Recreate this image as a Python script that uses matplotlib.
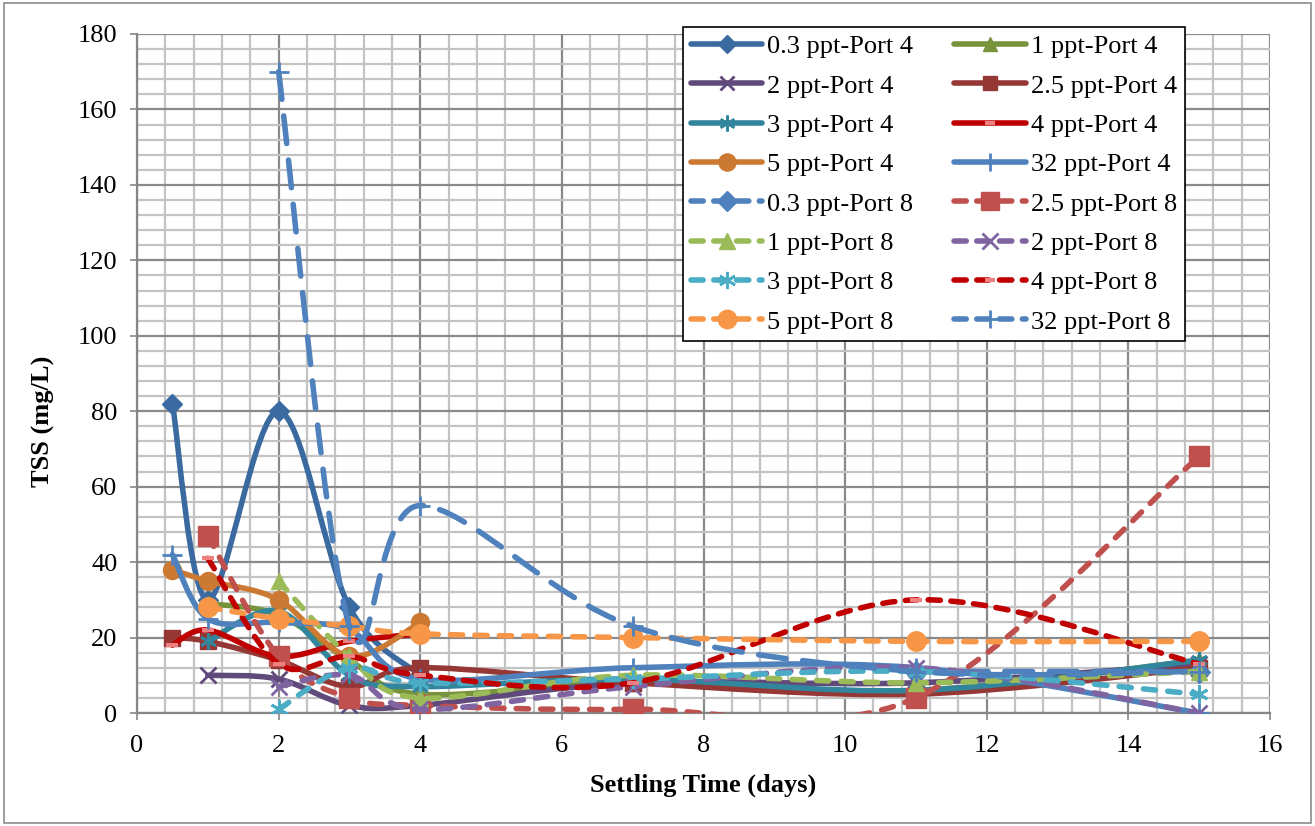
import numpy as np
import matplotlib.pyplot as plt
from matplotlib.path import Path
from matplotlib.patches import PathPatch, Rectangle
from matplotlib.lines import Line2D

plt.rcParams['font.family'] = ['Liberation Serif', 'DejaVu Serif']

nan = np.nan
days = [0.5, 1, 2, 3, 4, 7, 11, 15]

# TSS (mg/L) at each settling day, Port 4
tss_03_p4 = [82, 30, 80, 28, 10, nan, nan, nan]
tss_1_p4 = [nan, 29, 26, 14, 5, 8, 6, 14]
tss_2_p4 = [nan, 10, 9, 2, 2, 8, 8, 13]
tss_25_p4 = [20, 19, 14, 7, 12, 8, 5, 12]
tss_3_p4 = [nan, 19, 27, 10, 7, 9, 6, 14]
tss_4_p4 = [18, 22, 15, 19, 21, nan, nan, nan]
tss_5_p4 = [38, 35, 30, 15, 24, nan, nan, nan]
tss_32_p4 = [42, 25, 24, 22, 9, 12, 12, 0]

# TSS (mg/L) at each settling day, Port 8
tss_03_p8 = [nan, nan, nan, nan, nan, nan, 11, 11]
tss_25_p8 = [nan, 47, 15, 4, 2, 1, 4, 68]
tss_1_p8 = [nan, nan, 35, 15, 4, 10, 8, 11]
tss_2_p8 = [nan, nan, 7, 10, 1, 7, 12, 0]
tss_3_p8 = [nan, nan, 1, 12, 8, 9, 11, 5]
tss_4_p8 = [nan, 41, 13, 15, 10, 8, 30, 13]
tss_5_p8 = [nan, 28, 25, 23, 21, 20, 19, 19]
tss_32_p8 = [nan, nan, 170, 23, 55, 23, 11, 11]

labels = ['0.3 ppt-Port 4', '1 ppt-Port 4', '2 ppt-Port 4', '2.5 ppt-Port 4',
          '3 ppt-Port 4', '4 ppt-Port 4', '5 ppt-Port 4', '32 ppt-Port 4',
          '0.3 ppt-Port 8', '2.5 ppt-Port 8', '1 ppt-Port 8', '2 ppt-Port 8',
          '3 ppt-Port 8', '4 ppt-Port 8', '5 ppt-Port 8', '32 ppt-Port 8']
series = [tss_03_p4, tss_1_p4, tss_2_p4, tss_25_p4, tss_3_p4, tss_4_p4, tss_5_p4, tss_32_p4,
          tss_03_p8, tss_25_p8, tss_1_p8, tss_2_p8, tss_3_p8, tss_4_p8, tss_5_p8, tss_32_p8]

star = (6, 2, 0)
# color, marker, marker size, dash pattern (None = solid)
styles = [
    ('#3b6aa0', 'D', 10, None),
    ('#77933c', '^', 11, None),
    ('#604a7b', 'x', 11, None),
    ('#953735', 's', 11, None),
    ('#31859c', star, 12, None),
    ('#c00000', '_', 8, None),
    ('#cc7a33', 'o', 13, None),
    ('#4f81bd', '+', 14, None),
    ('#4f81bd', 'D', 11, (5.0, 3.0)),
    ('#c0504d', 's', 14, (2.2, 2.2)),
    ('#9bbb59', '^', 12, (2.2, 2.2)),
    ('#8064a2', 'x', 12, (2.2, 2.2)),
    ('#4bacc6', star, 13, (2.2, 2.2)),
    ('#c00000', '_', 8, (2.2, 1.9)),
    ('#f79646', 'o', 14, (2.2, 2.2)),
    ('#4f81bd', '+', 14, (5.0, 3.0)),
]


def smooth_path(x, y):
    # smoothed line through the points as cubic Bezier segments
    pts = np.array([(a, b) for a, b in zip(x, y) if not np.isnan(b)], dtype=float)
    n = len(pts)
    verts = [pts[0]]
    codes = [Path.MOVETO]
    for i in range(n - 1):
        p0 = pts[max(i - 1, 0)]
        p1 = pts[i]
        p2 = pts[i + 1]
        p3 = pts[min(i + 2, n - 1)]
        verts += [p1 + (p2 - p0) / 6, p2 - (p3 - p1) / 6, p2]
        codes += [Path.CURVE4] * 3
    return Path(verts, codes)


fig = plt.figure(figsize=(13.15, 8.26), dpi=100)
fig.patches.append(Rectangle((0.003, 0.004), 0.994, 0.992, transform=fig.transFigure,
                             fill=False, edgecolor='#8c8c8c', linewidth=1.2))
ax = fig.add_axes([137 / 1315, 1 - 713 / 826, (1270 - 137) / 1315, (713 - 34) / 826])

lw = 4.0
handles = []
for k, (vals, lab, (col, mk, ms, dash)) in enumerate(zip(series, labels, styles)):
    ls = '-' if dash is None else (0, dash)
    patch = PathPatch(smooth_path(days, vals), facecolor='none', edgecolor=col,
                      linewidth=lw, linestyle=ls, capstyle='round', joinstyle='round',
                      zorder=3 + k * 0.1)
    ax.add_patch(patch)
    mew = 2 if mk in ('x', '+', star) else 1
    mec = col
    if mk == '_':
        mec = '#f08080'
        mew = 3
    ax.plot(days, vals, linestyle='none', marker=mk, markersize=ms, color=col,
            markeredgecolor=mec, markeredgewidth=mew, zorder=3.05 + k * 0.1)
    # shorter dashes in the legend so the pattern shows on the short handle
    hls = ls if dash is None else (0, (min(dash[0], 2.2), 1.9))
    h = Line2D([], [], color=col, linewidth=lw, linestyle=hls, marker=mk,
               markersize=ms * 0.95, markeredgecolor=mec, markeredgewidth=mew,
               solid_capstyle='round', dash_capstyle='round')
    handles.append(h)

ax.set_xlim(0, 16)
ax.set_ylim(0, 180)
ax.set_xticks(np.arange(0, 17, 2))
ax.set_xticks(np.arange(0, 16.01, 0.4), minor=True)
ax.set_yticks(np.arange(0, 181, 20))
ax.set_yticks(np.arange(0, 180.1, 4), minor=True)
ax.grid(which='minor', color='#c3c3c3', linewidth=1.6, zorder=0)
ax.grid(which='major', color='#8a8a8a', linewidth=1.6, zorder=0)
ax.set_axisbelow(True)
for s in ('top', 'right'):
    ax.spines[s].set_visible(False)
for s in ('left', 'bottom'):
    ax.spines[s].set_color('#868686')
    ax.spines[s].set_linewidth(1.6)
ax.tick_params(which='major', direction='out', length=5, width=1.2, color='#868686',
               labelsize=19)
ax.tick_params(axis='y', pad=9)
ax.tick_params(axis='x', pad=11)
ax.tick_params(which='minor', length=0)

ax.set_xlabel('Settling Time (days)', fontsize=19, fontweight='bold', labelpad=12)
ax.set_ylabel('TSS (mg/L)', fontsize=19, fontweight='bold')
ax.yaxis.set_label_coords(-0.072, 0.43)

# legend reads row by row: reorder for matplotlib's column-major filling
order = list(range(0, 16, 2)) + list(range(1, 16, 2))
leg = ax.legend([handles[i] for i in order], [labels[i] for i in order], ncol=2,
                loc='upper left', bbox_to_anchor=(683 / 1315, 1 - 27 / 826),
                bbox_transform=fig.transFigure, fontsize=19, frameon=True,
                fancybox=False, framealpha=1, edgecolor='black', handlelength=2.7,
                handletextpad=0.2, columnspacing=1.55, labelspacing=0.6,
                borderpad=0.3, borderaxespad=0)
leg.get_frame().set_linewidth(1.2)
leg.set_zorder(10)

fig.savefig('out.png', dpi=100)
